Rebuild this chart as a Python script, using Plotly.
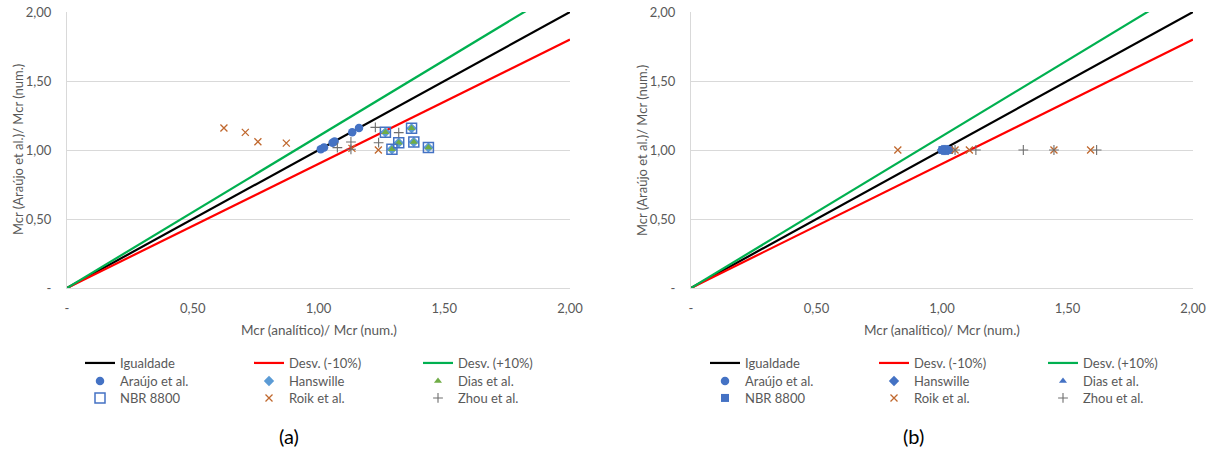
import plotly.graph_objects as go

W, H = 1214, 451

# ---------------- data ----------------
line_x = [0.0, 2.0]
igualdade_y = [0.0, 2.0]
desv_minus_y = [0.0, 1.8]
desv_plus_y = [0.0, 2.2]

# panel (a)
a_araujo_x = [1.009, 1.022, 1.056, 1.064, 1.134, 1.161]
a_araujo_y = [1.005, 1.019, 1.053, 1.061, 1.128, 1.159]
a_hans_x = [1.266, 1.319, 1.292, 1.370, 1.379, 1.437]
a_hans_y = [1.128, 1.053, 1.005, 1.157, 1.058, 1.019]
a_dias_x = [1.266, 1.319, 1.292, 1.370, 1.379, 1.437]
a_dias_y = [1.128, 1.053, 1.005, 1.157, 1.058, 1.019]
a_nbr_x = [1.266, 1.319, 1.292, 1.370, 1.379, 1.437]
a_nbr_y = [1.128, 1.053, 1.005, 1.157, 1.058, 1.019]
a_roik_x = [0.624, 0.709, 0.759, 0.872, 1.133, 1.238]
a_roik_y = [1.159, 1.128, 1.060, 1.050, 1.012, 1.000]
a_zhou_x = [1.075, 1.129, 1.129, 1.226, 1.239, 1.319]
a_zhou_y = [1.017, 1.058, 1.005, 1.164, 1.053, 1.126]

# panel (b)
b_araujo_x = [1.000, 1.005, 1.010, 1.015, 1.020, 1.025]
b_araujo_y = [1.0, 1.0, 1.0, 1.0, 1.0, 1.0]
b_hans_x = [1.000, 1.005, 1.010, 1.015, 1.020, 1.025]
b_hans_y = [1.0, 1.0, 1.0, 1.0, 1.0, 1.0]
b_dias_x = [1.000, 1.005, 1.010, 1.015, 1.020, 1.025]
b_dias_y = [1.0, 1.0, 1.0, 1.0, 1.0, 1.0]
b_nbr_x = [1.002, 1.008, 1.014, 1.020, 1.024, 1.028]
b_nbr_y = [1.0, 1.0, 1.0, 1.0, 1.0, 1.0]
b_roik_x = [0.824, 1.052, 1.109, 1.446, 1.592]
b_roik_y = [1.0, 1.0, 1.0, 1.0, 1.0]
b_zhou_x = [1.052, 1.135, 1.324, 1.446, 1.616]
b_zhou_y = [1.0, 1.0, 1.0, 1.0, 1.0]

tick_vals = [0, 0.5, 1.0, 1.5, 2.0]
tick_text = ["-", "0,50", "1,00", "1,50", "2,00"]

x_title = "Mcr (analítico)/ Mcr (num.)"
y_title = "Mcr (Araújo et al.)/ Mcr (num.)"
panel_labels = ["(a)", "(b)"]

# ---------------- styles ----------------
FONT = "Lato"
GRAY = "#595959"
BLUE = "#4472C4"
LBLUE = "#5B9BD5"
GREEN_M = "#70AD47"
ORANGE = "#C0682E"
ZGRAY = "#6E6E6E"

fig = go.Figure()


def add_panel(suffix, legs, data, variant):
    xa = "x" if suffix == "" else "x" + suffix
    ya = "y" if suffix == "" else "y" + suffix
    l1, l2, l3 = legs
    fig.add_trace(go.Scatter(x=line_x, y=igualdade_y, mode="lines", name="Igualdade",
                             line=dict(color="#000000", width=2.2), xaxis=xa, yaxis=ya, legend=l1))
    fig.add_trace(go.Scatter(x=line_x, y=desv_minus_y, mode="lines", name="Desv. (-10%)",
                             line=dict(color="#FF0000", width=2.2), xaxis=xa, yaxis=ya, legend=l1))
    fig.add_trace(go.Scatter(x=line_x, y=desv_plus_y, mode="lines", name="Desv. (+10%)",
                             line=dict(color="#00B050", width=2.2), xaxis=xa, yaxis=ya, legend=l1))
    (ax, ay), (hx, hy), (dx, dy), (nx, ny), (rx, ry), (zx, zy) = data
    fig.add_trace(go.Scatter(x=ax, y=ay, mode="markers", name="Araújo et al.",
                             marker=dict(symbol="circle", size=8.5, color=BLUE),
                             xaxis=xa, yaxis=ya, legend=l2))
    fig.add_trace(go.Scatter(x=hx, y=hy, mode="markers", name="Hanswille",
                             marker=dict(symbol="diamond", size=8,
                                         color=LBLUE if variant == "a" else BLUE),
                             xaxis=xa, yaxis=ya, legend=l2))
    fig.add_trace(go.Scatter(x=dx, y=dy, mode="markers", name="Dias et al.",
                             marker=dict(symbol="triangle-up", size=7,
                                         color=GREEN_M if variant == "a" else BLUE),
                             xaxis=xa, yaxis=ya, legend=l2))
    if variant == "a":
        nbr_marker = dict(symbol="square-open", size=10, color=BLUE, line=dict(width=1.5))
    else:
        nbr_marker = dict(symbol="square", size=8, color=BLUE)
    fig.add_trace(go.Scatter(x=nx, y=ny, mode="markers", name="NBR 8800",
                             marker=nbr_marker, xaxis=xa, yaxis=ya, legend=l3))
    fig.add_trace(go.Scatter(x=rx, y=ry, mode="markers", name="Roik et al.",
                             marker=dict(symbol="x-thin-open", size=7, color=ORANGE,
                                         line=dict(width=1.3, color=ORANGE)),
                             xaxis=xa, yaxis=ya, legend=l3))
    fig.add_trace(go.Scatter(x=zx, y=zy, mode="markers", name="Zhou et al.",
                             marker=dict(symbol="cross-thin-open", size=7, color=ZGRAY,
                                         line=dict(width=1.1, color=ZGRAY)),
                             xaxis=xa, yaxis=ya, legend=l3))


add_panel("", ("legend", "legend2", "legend3"),
          [(a_araujo_x, a_araujo_y), (a_hans_x, a_hans_y), (a_dias_x, a_dias_y),
           (a_nbr_x, a_nbr_y), (a_roik_x, a_roik_y), (a_zhou_x, a_zhou_y)], "a")
add_panel("2", ("legend4", "legend5", "legend6"),
          [(b_araujo_x, b_araujo_y), (b_hans_x, b_hans_y), (b_dias_x, b_dias_y),
           (b_nbr_x, b_nbr_y), (b_roik_x, b_roik_y), (b_zhou_x, b_zhou_y)], "b")

# ---------------- layout ----------------
def px_x(p):
    return p / W


def px_y(p):
    return 1 - p / H


ydom = [px_y(288), px_y(12)]
ax_common = dict(range=[0, 2], tickvals=tick_vals, ticktext=tick_text,
                 showline=True, linecolor="#D9D9D9", linewidth=1,
                 ticks="", tickfont=dict(family=FONT, size=13, color=GRAY),
                 zeroline=False, fixedrange=True, automargin=False)

layout = dict(
    width=W, height=H,
    margin=dict(l=0, r=0, t=0, b=0, pad=0),
    paper_bgcolor="white", plot_bgcolor="white",
    font=dict(family=FONT, size=13, color=GRAY),
    xaxis=dict(domain=[px_x(67), px_x(570)], anchor="y", showgrid=False,
               ticklabelstandoff=8, **ax_common),
    yaxis=dict(domain=ydom, anchor="x", showgrid=True, gridcolor="#D9D9D9",
               ticklabelstandoff=12, **ax_common),
    xaxis2=dict(domain=[px_x(691), px_x(1193)], anchor="y2", showgrid=False,
                ticklabelstandoff=8, **ax_common),
    yaxis2=dict(domain=ydom, anchor="x2", showgrid=True, gridcolor="#D9D9D9",
                ticklabelstandoff=12, **ax_common),
)

row_y = [363, 381, 398]
leg_x = [80, 705]
names = [["legend", "legend2", "legend3"], ["legend4", "legend5", "legend6"]]
for pi in range(2):
    for ri in range(3):
        layout[names[pi][ri]] = dict(
            orientation="h", x=px_x(leg_x[pi]), xanchor="left",
            y=px_y(row_y[ri]), yanchor="middle",
            entrywidth=124, entrywidthmode="pixels",
            font=dict(family=FONT, size=13, color=GRAY),
            bgcolor="rgba(0,0,0,0)", borderwidth=0, itemwidth=30,
            tracegroupgap=0,
        )

fig.update_layout(**layout)

annotations = []
for cx in [318.5, 942]:
    annotations.append(dict(text=x_title, x=px_x(cx), y=px_y(330), xref="paper", yref="paper",
                            showarrow=False, xanchor="center", yanchor="middle",
                            font=dict(family=FONT, size=13.5, color=GRAY)))
for cx in [18, 642]:
    annotations.append(dict(text=y_title, x=px_x(cx), y=px_y(150), xref="paper", yref="paper",
                            showarrow=False, xanchor="center", yanchor="middle", textangle=-90,
                            font=dict(family=FONT, size=13, color=GRAY)))
for lbl, cx in zip(panel_labels, [289, 913]):
    annotations.append(dict(text=lbl, x=px_x(cx), y=px_y(436), xref="paper", yref="paper",
                            showarrow=False, xanchor="center", yanchor="middle",
                            font=dict(family=FONT, size=20, color="#000000")))
fig.update_layout(annotations=annotations)

fig.write_html(
    "out.html",
    post_script="document.body.style.margin='0';document.body.style.overflow='hidden';",
)
